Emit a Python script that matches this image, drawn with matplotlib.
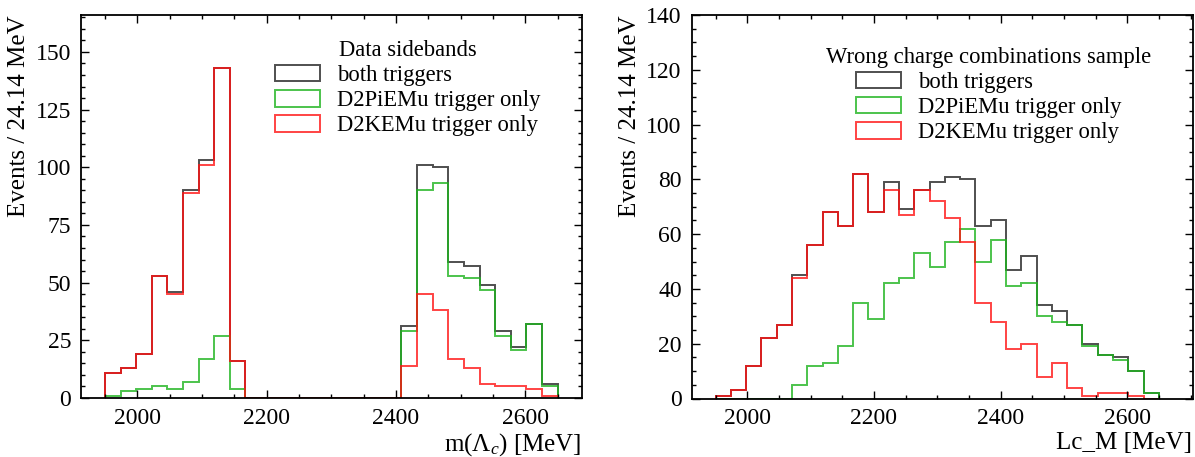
import numpy as np
import matplotlib
matplotlib.use("Agg")
import matplotlib.pyplot as plt
import matplotlib.patches as mpatches
from matplotlib.ticker import MultipleLocator

# ---------------- data ----------------
bin_edges = np.linspace(1950, 2650, 30)  # 29 bins of 24.14 MeV

left_both = [11, 13, 19, 53, 46, 90, 103, 143, 16, 0, 0, 0, 0, 0, 0, 0, 0, 0, 0,
             31, 101, 100, 59, 57, 49, 29, 22, 32, 6]
left_pi = [1, 3, 4, 5, 4, 7, 17, 27, 4, 0, 0, 0, 0, 0, 0, 0, 0, 0, 0,
           29, 90, 93, 53, 52, 47, 27, 21, 32, 5]
left_k = [11, 13, 19, 53, 45, 89, 101, 143, 16, 0, 0, 0, 0, 0, 0, 0, 0, 0, 0,
          14, 45, 38, 17, 13, 6, 5, 5, 4, 1]

right_both = [1, 3, 12, 22, 27, 45, 56, 68, 63, 82, 68, 79, 69, 76, 79, 81, 80, 63,
              65, 47, 52, 34, 32, 27, 20, 16, 15, 10, 2]
right_pi = [0, 0, 0, 0, 0, 5, 12, 13, 19, 35, 29, 42, 44, 53, 48, 57, 62, 50, 58,
            41, 42, 30, 28, 27, 19, 16, 14, 10, 2]
right_k = [1, 3, 12, 22, 27, 44, 56, 68, 63, 82, 68, 76, 67, 76, 72, 66, 57, 35, 28,
           18, 20, 8, 13, 4, 1, 2, 2, 1, 0]

series_labels = ["both triggers", "D2PiEMu trigger only", "D2KEMu trigger only"]
left_title = "Data sidebands"
right_title = "Wrong charge combinations sample"
ylabel = "Events / 24.14 MeV"
left_xlabel = r"m($\Lambda_{c}$) [MeV]"
right_xlabel = "Lc_M [MeV]"

# ---------------- style ----------------
plt.rcParams["font.family"] = ["Liberation Serif", "DejaVu Serif"]
plt.rcParams["mathtext.fontset"] = "custom"
plt.rcParams["mathtext.rm"] = "Liberation Serif"
plt.rcParams["mathtext.it"] = "Liberation Serif:italic"

colors = ["#222222", "#1fb41f", "#ff1414"]
alpha = 0.8
lw = 1.4

W, H = 1195, 457
fig = plt.figure(figsize=(W / 100, H / 100), dpi=100)

def px_axes(x0, x1, ytop, ybot):
    return fig.add_axes([x0 / W, 1 - ybot / H, (x1 - x0) / W, (ybot - ytop) / H])

axL = px_axes(81, 581.5, 15, 398)
axR = px_axes(691.5, 1192.5, 15, 398.5)

def style_axis(ax, ymaj, ymin):
    ax.xaxis.set_major_locator(MultipleLocator(200))
    ax.xaxis.set_minor_locator(MultipleLocator(50))
    ax.yaxis.set_major_locator(MultipleLocator(ymaj))
    ax.yaxis.set_minor_locator(MultipleLocator(ymin))
    ax.tick_params(which="both", direction="in", top=True, right=True,
                   labelsize=17, width=1.0, colors="black")
    ax.tick_params(which="major", length=6, pad=7)
    ax.tick_params(which="minor", length=3)
    for s in ax.spines.values():
        s.set_linewidth(1.3)

def draw(ax, both, pi, k, title, xlabel, xlim, ylim, ymaj, ymin):
    for vals, c in zip([both, pi, k], colors):
        ax.stairs(vals, bin_edges, baseline=0, fill=False, color=c,
                  linewidth=lw, alpha=alpha)
    ax.set_xlim(*xlim)
    ax.set_ylim(*ylim)
    style_axis(ax, ymaj, ymin)
    ax.set_xlabel(xlabel, fontsize=18, loc="right", labelpad=2)
    ax.set_ylabel(ylabel, fontsize=18, loc="top", labelpad=4)
    handles = [mpatches.Patch(facecolor="none", edgecolor=c, linewidth=lw, alpha=alpha)
               for c in colors]
    leg = ax.legend(handles, series_labels, title=title, frameon=False,
                    fontsize=16.3, title_fontsize=16.3, loc="upper right",
                    handlelength=2.0, handleheight=0.75, handletextpad=0.75,
                    labelspacing=0.18, borderpad=0.2)
    return leg

legL = draw(axL, left_both, left_pi, left_k, left_title, left_xlabel,
            (1913, 2687), (0, 166), 25, 5)
legL.set_bbox_to_anchor((0.95, 0.977), transform=axL.transAxes)
legR = draw(axR, right_both, right_pi, right_k, right_title, right_xlabel,
            (1912, 2703), (0, 140), 20, 5)
legR.set_bbox_to_anchor((0.95, 0.959), transform=axR.transAxes)

fig.savefig("out.png", dpi=100)
